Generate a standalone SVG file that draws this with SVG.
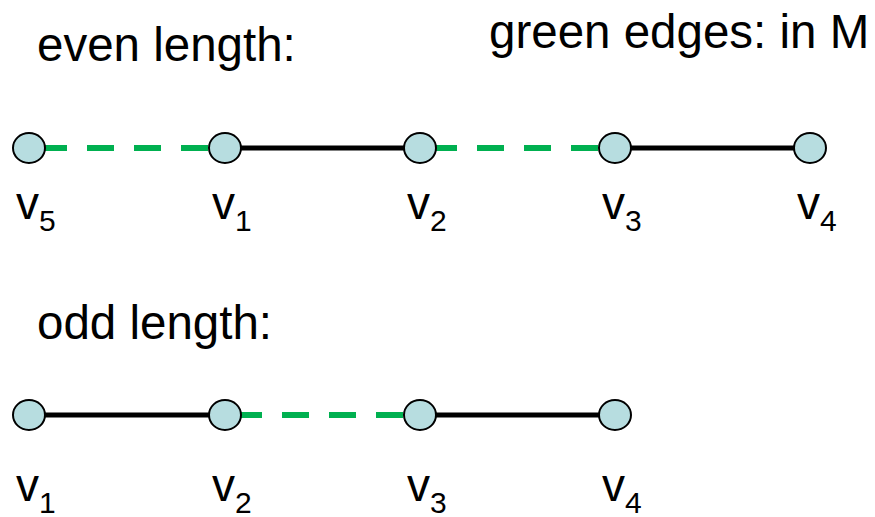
<svg xmlns="http://www.w3.org/2000/svg" width="875" height="517" viewBox="0 0 875 517">
<style>
text{font-family:"Liberation Sans",Arial,sans-serif;fill:#000}
.t{font-size:47.5px}
.v{font-size:46px}
.s{font-size:30px}
.m{stroke:#00b050;stroke-width:6;stroke-dasharray:27 20;fill:none}
.b{stroke:#000;stroke-width:5;fill:none}
.n{fill:#b7dde0;stroke:#000;stroke-width:2}
</style>
<rect width="875" height="517" fill="#fff"/>
<text class="t" x="37" y="61">even length:</text>
<text class="t" x="489" y="48">green edges: in M</text>
<text class="t" x="37" y="339">odd length:</text>
<g id="connectors">
<line class="m" x1="40" y1="148" x2="215" y2="148"/>
<line class="b" x1="225" y1="148" x2="420" y2="148"/>
<line class="m" x1="430" y1="148" x2="605" y2="148"/>
<line class="b" x1="615" y1="148" x2="810" y2="148"/>
<line class="b" x1="29" y1="415" x2="225" y2="415"/>
<line class="m" x1="235" y1="415" x2="410" y2="415"/>
<line class="b" x1="420" y1="415" x2="615" y2="415"/>
</g>
<g id="top-v5"><ellipse class="n" cx="29" cy="148" rx="16" ry="15"/><text x="16" y="219"><tspan class="v">v</tspan><tspan class="s" dy="12">5</tspan></text></g>
<g id="top-v1"><ellipse class="n" cx="225" cy="148" rx="16" ry="15"/><text x="212" y="219"><tspan class="v">v</tspan><tspan class="s" dy="12">1</tspan></text></g>
<g id="top-v2"><ellipse class="n" cx="420" cy="148" rx="16" ry="15"/><text x="407" y="219"><tspan class="v">v</tspan><tspan class="s" dy="12">2</tspan></text></g>
<g id="top-v3"><ellipse class="n" cx="615" cy="148" rx="16" ry="15"/><text x="602" y="219"><tspan class="v">v</tspan><tspan class="s" dy="12">3</tspan></text></g>
<g id="top-v4"><ellipse class="n" cx="810" cy="148" rx="16" ry="15"/><text x="797" y="219"><tspan class="v">v</tspan><tspan class="s" dy="12">4</tspan></text></g>
<g id="bot-v1"><ellipse class="n" cx="29" cy="415" rx="16" ry="15"/><text x="16" y="501"><tspan class="v">v</tspan><tspan class="s" dy="12">1</tspan></text></g>
<g id="bot-v2"><ellipse class="n" cx="225" cy="415" rx="16" ry="15"/><text x="212" y="501"><tspan class="v">v</tspan><tspan class="s" dy="12">2</tspan></text></g>
<g id="bot-v3"><ellipse class="n" cx="420" cy="415" rx="16" ry="15"/><text x="407" y="501"><tspan class="v">v</tspan><tspan class="s" dy="12">3</tspan></text></g>
<g id="bot-v4"><ellipse class="n" cx="615" cy="415" rx="16" ry="15"/><text x="602" y="501"><tspan class="v">v</tspan><tspan class="s" dy="12">4</tspan></text></g>
</svg>
